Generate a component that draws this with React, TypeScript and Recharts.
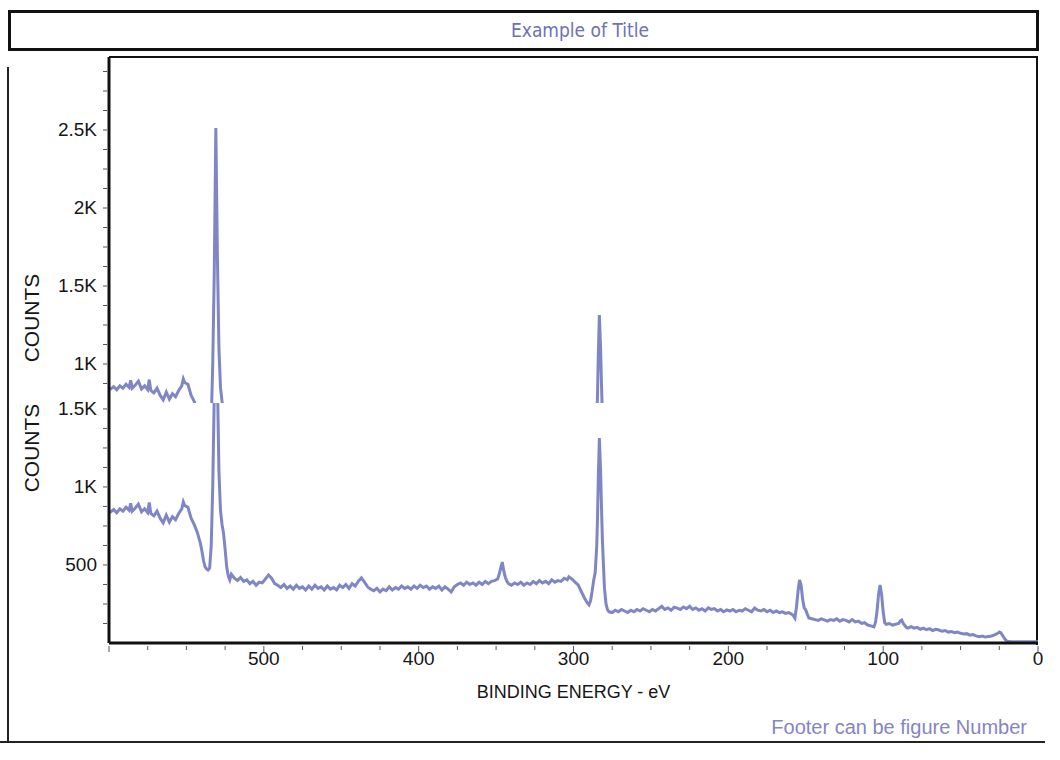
import { LineChart, Line, XAxis, YAxis } from 'recharts';

// XPS survey: [binding energy eV, counts]
const plateau: [number, number][] = [
    [600, 835], [599, 840], [597, 855], [595, 835], [593, 860], [591, 845], [589, 870], [587, 850],
    [586, 895], [585, 845], [583, 865], [581, 890], [579, 840], [577, 860], [575, 835], [574, 900],
    [573, 830], [571, 815], [569, 845], [567, 800], [565, 770], [563, 820], [561, 775], [559, 810],
    [557, 790], [555, 830], [553, 860], [552, 905], [551, 880], [549, 870], [547, 800], [545, 760],
    [543, 710], [541, 640], [540, 590], [539, 530], [538, 490], [537, 475],
];

const oxygenPeak: [number, number][] = [
    [536, 468], [535, 480], [534, 620], [533, 1000], [532, 1600], [531, 2513], [530, 1700],
    [529, 1100], [528, 850], [527, 760], [526, 700], [525, 600], [524, 490], [523, 430], [522, 404],
];

const midRegion: [number, number][] = [
    [521, 440], [519, 415], [517, 400], [515, 420], [513, 395], [511, 405], [509, 380], [507, 395],
    [505, 370], [503, 390], [501, 385], [499, 410], [497, 436], [495, 415], [493, 380], [491, 370],
    [489, 355], [487, 375], [485, 350], [483, 365], [481, 345], [479, 370], [477, 350], [475, 360],
    [473, 340], [471, 365], [469, 345], [467, 370], [465, 350], [463, 360], [461, 340], [459, 365],
    [457, 345], [455, 355], [453, 340], [451, 370], [449, 355], [447, 375], [445, 350], [443, 380],
    [441, 365], [439, 395], [437, 417], [435, 390], [433, 360], [431, 345], [429, 335], [427, 350],
    [425, 327], [423, 345], [421, 335], [419, 360], [417, 340], [415, 355], [413, 345], [411, 365],
    [409, 350], [407, 360], [405, 345], [403, 365], [401, 350], [399, 370], [397, 355], [395, 365],
    [393, 345], [391, 360], [389, 350], [387, 365], [385, 340], [383, 360], [381, 345], [379, 327],
    [377, 360], [375, 375], [373, 385], [371, 370], [369, 390], [367, 375], [365, 385], [363, 370],
    [361, 390], [359, 375], [357, 395], [355, 380], [353, 395], [351, 400], [349, 410], [348, 440],
    [347, 480], [346, 519], [345, 460], [344, 420], [343, 395], [342, 380], [340, 370], [338, 385],
    [336, 375], [334, 390], [332, 370], [330, 385], [328, 375], [326, 395], [324, 380], [322, 400],
    [320, 385], [318, 395], [316, 380], [314, 405], [312, 390], [310, 400], [308, 395], [306, 415],
    [304, 405], [303, 425], [301, 410], [299, 390], [297, 372], [295, 330], [293, 290], [291, 255],
];

const carbonPeak: [number, number][] = [
    [290, 244], [289, 270], [288, 330], [287, 400], [286, 450], [285, 620], [284.5, 800], [284, 1050],
    [283.3, 1314], [282.5, 1100], [282, 900], [281.3, 650], [280.6, 487], [280, 350], [279, 250],
    [278, 212],
];

const lowRegion: [number, number][] = [
    [277, 200], [275, 195], [273, 210], [271, 200], [269, 215], [267, 205], [265, 195], [263, 210],
    [261, 200], [259, 215], [257, 205], [255, 220], [253, 210], [251, 200], [249, 215], [247, 205],
    [245, 220], [243, 235], [241, 215], [239, 225], [237, 210], [235, 230], [233, 224], [231, 215],
    [229, 231], [227, 220], [225, 235], [223, 215], [221, 225], [219, 210], [217, 220], [215, 205],
    [213, 225], [211, 215], [209, 220], [207, 205], [205, 215], [203, 200], [201, 212], [199, 205],
    [197, 215], [195, 200], [193, 210], [191, 205], [189, 220], [187, 210], [185, 200], [183, 224],
    [181, 210], [179, 205], [177, 215], [175, 200], [173, 210], [171, 195], [169, 205], [167, 195],
    [165, 200], [163, 190], [161, 195], [159, 185], [158, 175], [157, 160], [156, 230], [155, 330],
    [154, 404], [153, 370], [152, 280], [151, 225], [150, 212], [149, 185], [148, 160], [146, 155],
    [144, 150], [142, 145], [140, 155], [138, 148], [136, 140], [134, 150], [132, 145], [130, 155],
    [128, 140], [126, 150], [124, 145], [122, 135], [120, 150], [118, 135], [116, 140], [114, 125],
    [112, 130], [110, 115], [108, 110], [106, 103], [105, 130], [104, 200], [103, 310], [102, 372],
    [101, 310], [100, 200], [99, 130], [98, 120], [96, 125], [94, 115], [92, 120], [90, 125],
    [89, 140], [88, 147], [87, 125], [85, 100], [84, 96], [82, 105], [80, 95], [78, 100],
    [76, 88], [74, 95], [72, 85], [70, 92], [68, 80], [66, 88], [64, 83], [62, 75],
    [60, 80], [58, 70], [56, 74], [54, 66], [52, 70], [50, 62], [48, 58], [46, 60],
    [44, 50], [42, 54], [40, 46], [38, 40], [36, 44], [34, 38], [32, 42], [30, 45],
    [28, 52], [26, 62], [25, 70], [24, 66], [23, 50], [22, 35], [21, 20], [20, 12],
    [18, 10], [15, 8], [10, 8], [5, 8], [0, 8],
];

const energyTicks = [0, 25, 50, 75, 100, 125, 150, 175, 200, 225, 250, 275, 300, 325, 350, 375, 400, 425, 450, 475, 500, 525, 550, 575, 600];
const upperTicks = [875, 1000, 1125, 1250, 1375, 1500, 1625, 1750, 1875, 2000, 2125, 2250, 2375, 2500, 2625, 2750, 2875];
const lowerTicks = [125, 250, 375, 500, 625, 750, 875, 1000, 1125, 1250, 1375, 1500];

const spectrum = [...plateau, ...oxygenPeak, ...midRegion, ...carbonPeak, ...lowRegion]
    .map(([energy, counts]) => ({ energy, counts }));

const TRACE = '#7f86c5';
const FONT = '"Liberation Sans", Arial, sans-serif';

const fmtCounts = (v: number) => (v >= 1000 ? `${v / 1000}K` : `${v}`);

const YTick = ({ x, y, payload }: any) => {
    const major = payload.value % 500 === 0;
    return (
        <g>
            <line x1={x - 6} x2={x - 2} y1={y} y2={y} stroke="#555" strokeWidth={1} />
            {major && (
                <text x={x - 12} y={y} dy={6} textAnchor="end" fontSize={19} fontFamily={FONT} fill="#161616">
                    {fmtCounts(payload.value)}
                </text>
            )}
        </g>
    );
};

const XTick = ({ x, y, payload }: any) => {
    const v = payload.value;
    const major = v % 100 === 0;
    return (
        <g>
            <line x1={x} x2={x} y1={y + 3} y2={y + (major ? 9 : 7)} stroke="#555" strokeWidth={1} />
            {major && v !== 600 && (
                <text x={x} y={y + 22} textAnchor="middle" fontSize={19} fontFamily={FONT} fill="#161616">
                    {v}
                </text>
            )}
        </g>
    );
};

const countsLabel = (cy: number) => () => (
    <text x={31} y={cy} transform={`rotate(-90 31 ${cy})`} textAnchor="middle" dominantBaseline="central"
        fontSize={21} fontFamily={FONT} fill="#161616">
        COUNTS
    </text>
);

export default function App() {
    return (
        <div style={{ position: 'absolute', left: 0, top: 0, width: 1060, height: 760, background: '#fff', fontFamily: FONT }}>
            {/* title box */}
            <div style={{ position: 'absolute', left: 8, top: 10, width: 1025, height: 35, border: '3px solid #111' }} />
            <div style={{
                position: 'absolute', left: 480, top: 13, width: 200, lineHeight: '35px', textAlign: 'center',
                fontSize: 19, color: '#6f70b4', fontFamily: '"Liberation Sans Narrow", "DejaVu Sans", sans-serif', fontStretch: 'condensed',
            }}>
                Example of Title
            </div>

            {/* outer frame */}
            <div style={{ position: 'absolute', left: 7, top: 67, width: 2, height: 676, background: '#222' }} />
            <div style={{ position: 'absolute', left: 0, top: 741, width: 1045, height: 2, background: '#222' }} />

            {/* plot top / right border */}
            <div style={{ position: 'absolute', left: 109, top: 56, width: 927, height: 587, borderTop: '2px solid #111', borderRight: '2px solid #111' }} />

            {/* upper part of the scan */}
            <div style={{ position: 'absolute', left: 0, top: 0 }}>
                <LineChart width={1060} height={403} data={spectrum} margin={{ top: 57, right: 22, bottom: 0, left: 0 }}>
                    <XAxis type="number" dataKey="energy" domain={[0, 600]} reversed hide allowDataOverflow />
                    <YAxis type="number" domain={[750, 2968]} allowDataOverflow ticks={upperTicks} interval={0}
                        width={109} tickSize={0} tickMargin={0} tickLine={false}
                        axisLine={{ stroke: '#111', strokeWidth: 3 }}
                        tick={(p: any) => <YTick {...p} />}
                        label={countsLabel(318)} />
                    <Line type="linear" dataKey="counts" stroke={TRACE} strokeWidth={3} dot={false} isAnimationActive={false} />
                </LineChart>
            </div>

            {/* lower part of the scan */}
            <div style={{ position: 'absolute', left: 0, top: 390 }}>
                <LineChart width={1060} height={370} data={spectrum} margin={{ top: 13, right: 22, bottom: 0, left: 0 }}>
                    <XAxis type="number" dataKey="energy" domain={[0, 600]} reversed allowDataOverflow
                        ticks={energyTicks} interval={0} height={117} tickSize={0} tickMargin={0} tickLine={false}
                        axisLine={{ stroke: '#111', strokeWidth: 3 }}
                        tick={(p: any) => <XTick {...p} />}
                        label={{ value: 'BINDING ENERGY - eV', position: 'insideTop', offset: 42, fontSize: 18, fill: '#161616', fontFamily: FONT }} />
                    <YAxis type="number" domain={[0, 1538]} allowDataOverflow ticks={lowerTicks} interval={0}
                        width={109} tickSize={0} tickMargin={0} tickLine={false}
                        axisLine={{ stroke: '#111', strokeWidth: 3 }}
                        tick={(p: any) => <YTick {...p} />}
                        label={countsLabel(58)} />
                    <Line type="linear" dataKey="counts" stroke={TRACE} strokeWidth={3} dot={false} isAnimationActive={false} />
                </LineChart>
            </div>

            {/* footer */}
            <div style={{ position: 'absolute', right: 33, top: 716, fontSize: 20, color: '#8585c2', fontFamily: FONT }}>
                Footer can be figure Number
            </div>
        </div>
    );
}
